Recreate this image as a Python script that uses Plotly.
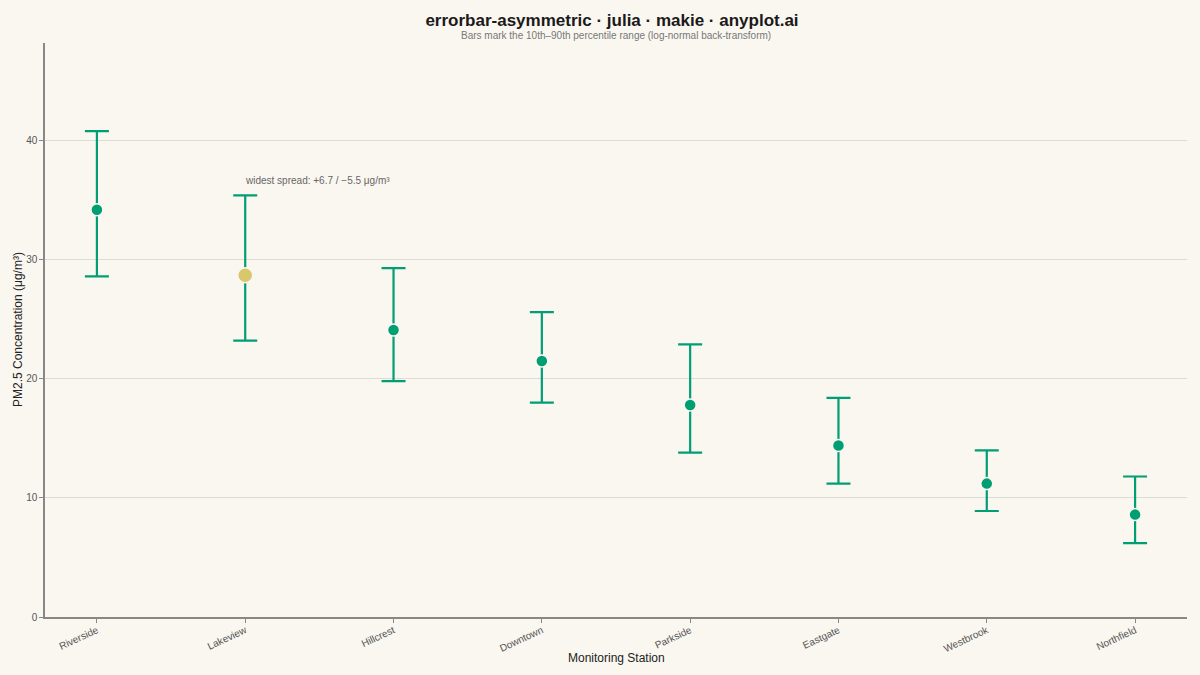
import plotly.graph_objects as go

# Data: median PM2.5 with 10th / 90th percentile bounds
stations = ['Riverside', 'Lakeview', 'Hillcrest', 'Downtown',
            'Parkside', 'Eastgate', 'Westbrook', 'Northfield']
median = [34.2, 28.7, 24.1, 21.5, 17.8, 14.4, 11.2, 8.6]
p10 = [28.6, 23.2, 19.8, 18.0, 13.8, 11.2, 8.9, 6.2]
p90 = [40.8, 35.4, 29.3, 25.6, 22.9, 18.4, 14.0, 11.8]

err_plus = [hi - m for hi, m in zip(p90, median)]
err_minus = [m - lo for m, lo in zip(median, p10)]

widest = max(range(len(stations)), key=lambda i: err_plus[i] + err_minus[i])

green = '#009E73'
gold = '#D9C76E'
bg = '#FAF7F0'

colors = [gold if i == widest else green for i in range(len(stations))]
sizes = [15 if i == widest else 12 for i in range(len(stations))]

fig = go.Figure()

fig.add_trace(go.Scatter(
    x=stations, y=median,
    mode='markers',
    marker=dict(color=colors, size=sizes, opacity=1,
                line=dict(color=bg, width=1.5)),
    error_y=dict(type='data', symmetric=False,
                 array=err_plus, arrayminus=err_minus,
                 color=green, thickness=2.2, width=12),
    showlegend=False,
    hoverinfo='skip',
))

fig.add_annotation(
    x=stations[widest], y=p90[widest] + 0.6,
    text=f'widest spread: +{err_plus[widest]:.1f} / \u2212{err_minus[widest]:.1f} \u03bcg/m\u00b3',
    showarrow=False, xanchor='left', yanchor='bottom', xshift=-2,
    font=dict(size=10, color='#666666'),
)

# subtitle
fig.add_annotation(
    xref='paper', yref='paper', x=0.5, y=1.0, yshift=8,
    text='Bars mark the 10th\u201390th percentile range (log-normal back-transform)',
    showarrow=False, xanchor='center', yanchor='middle',
    font=dict(size=10, color='#777777'),
)

# axis titles
fig.add_annotation(
    xref='paper', yref='paper', x=0.5, y=-0.0714,
    text='Monitoring Station', showarrow=False,
    xanchor='center', yanchor='middle',
    font=dict(size=12, color='#222222'),
)
fig.add_annotation(
    xref='paper', yref='paper', x=-0.0236, y=0.5,
    text='PM2.5 Concentration (\u03bcg/m\u00b3)', showarrow=False,
    textangle=-90, xanchor='center', yanchor='middle',
    font=dict(size=12, color='#222222'),
)

fig.update_layout(
    title=dict(
        text='<b>errorbar-asymmetric \u00b7 julia \u00b7 makie \u00b7 anyplot.ai</b>',
        x=0.51, xanchor='center', y=0.97, yanchor='middle',
        font=dict(size=17, color='#1a1a1a'),
    ),
    font=dict(family='Liberation Sans, Arial, sans-serif', color='#444444', size=11),
    paper_bgcolor=bg,
    plot_bgcolor=bg,
    width=1200, height=675,
    margin=dict(l=45, r=13, t=43, b=58),
    xaxis=dict(
        range=[-0.35, 7.35], automargin=False,
        showline=True, linecolor='#888888', linewidth=1.5,
        ticks='outside', ticklen=4, tickcolor='#888888',
        ticklabelstandoff=-2,
        tickangle=-25, showgrid=False, zeroline=False,
        tickfont=dict(size=10, color='#555555'),
    ),
    yaxis=dict(
        range=[0, 48.2], automargin=False,
        tickvals=[0, 10, 20, 30, 40],
        showline=True, linecolor='#888888', linewidth=1.5,
        ticks='outside', ticklen=4, tickcolor='#888888',
        showgrid=True, gridcolor='#DDDBD5', gridwidth=1,
        zeroline=False,
        tickfont=dict(size=10, color='#555555'),
    ),
)

fig.write_html('out.html', config={'displayModeBar': False},
               post_script="document.body.style.margin='0';")
